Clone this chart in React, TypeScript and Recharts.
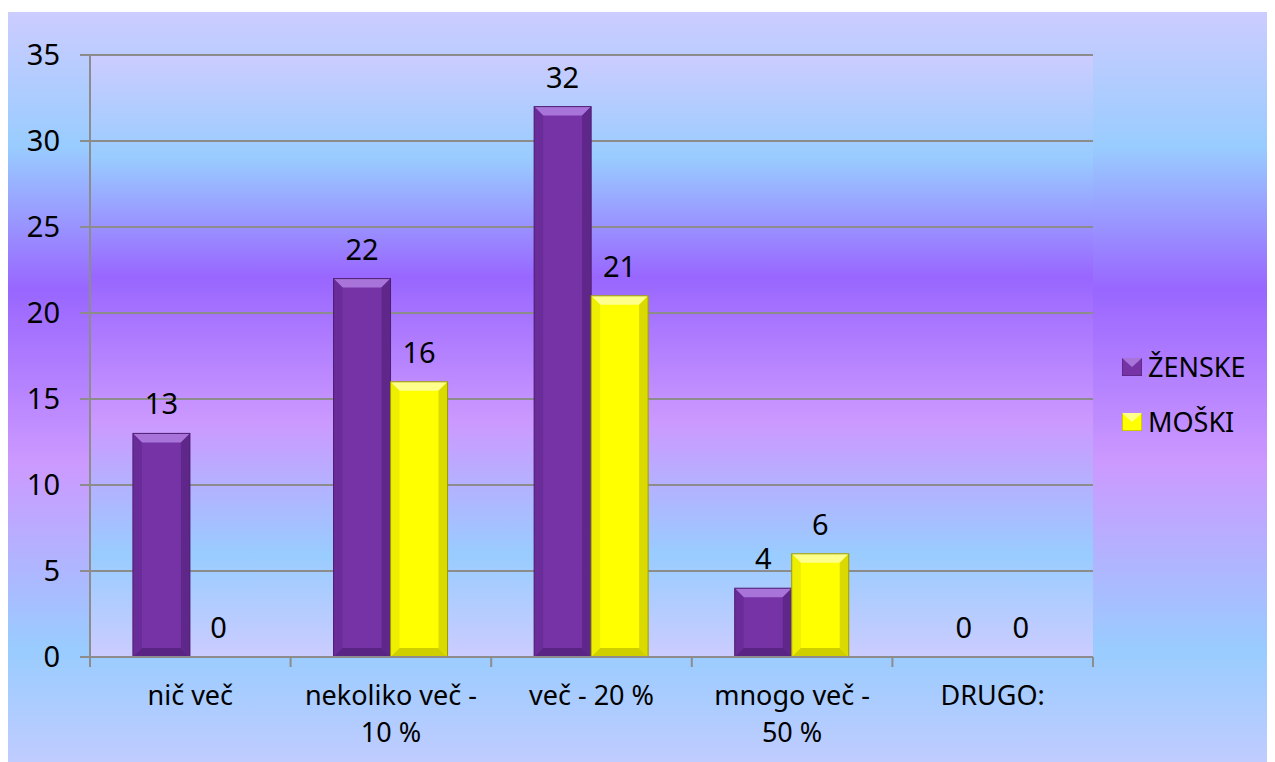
import React from "react";
import { BarChart, Bar, XAxis, YAxis, CartesianGrid, LabelList, Legend } from "recharts";

const categories = ["nič več", "nekoliko več - 10 %", "več - 20 %", "mnogo več - 50 %", "DRUGO:"];
const zenske = [13, 22, 32, 4, 0];
const moski = [0, 16, 21, 6, 0];
const yTicks = [0, 5, 10, 15, 20, 25, 30, 35];
const seriesNames = ["ŽENSKE", "MOŠKI"];

const data = categories.map((c, i) => ({ name: c, zenske: zenske[i], moski: moski[i] }));

const W = 1267;
const H = 750;
const LEGEND_W = 150;
const M = { top: 43, right: 182 - LEGEND_W, bottom: 10, left: 10 };
const YW = 72;
const PLOT_W = W - M.left - M.right - YW - LEGEND_W;
const BW = PLOT_W / categories.length;
const FONT = "'Noto Sans', 'DejaVu Sans', sans-serif";

const PALETTE: Record<string, { base: string; top: string; left: string; right: string; bottom: string; edge: string }> = {
  purple: { base: "#7533A6", top: "#A874DA", left: "#6A2C98", right: "#5F2789", bottom: "#5A2484", edge: "#4E1F73" },
  yellow: { base: "#FFFF00", top: "#FFFF8C", left: "#EEEE00", right: "#DADA00", bottom: "#CFCF00", edge: "#9A9A00" },
};

function BevelBar(props: any) {
  const { x, y, width, height, colorKey } = props;
  if (!height || height <= 0) return null;
  const c = PALETTE[colorKey];
  const b = Math.min(9, height / 2, width / 2);
  const x2 = x + width;
  const y2 = y + height;
  return (
    <g>
      <rect x={x} y={y} width={width} height={height} fill={c.base} />
      <polygon points={`${x},${y} ${x2},${y} ${x2 - b},${y + b} ${x + b},${y + b}`} fill={c.top} />
      <polygon points={`${x},${y} ${x + b},${y + b} ${x + b},${y2 - b} ${x},${y2}`} fill={c.left} />
      <polygon points={`${x2},${y} ${x2 - b},${y + b} ${x2 - b},${y2 - b} ${x2},${y2}`} fill={c.right} />
      <polygon points={`${x},${y2} ${x + b},${y2 - b} ${x2 - b},${y2 - b} ${x2},${y2}`} fill={c.bottom} />
      <rect x={x} y={y} width={width} height={height} fill="none" stroke={c.edge} strokeWidth={1} />
    </g>
  );
}

function splitLabel(s: string): string[] {
  const idx = s.lastIndexOf(" - ");
  if (idx > 0 && s.length > 12) return [s.slice(0, idx) + " -", s.slice(idx + 3)];
  return [s];
}

function CatTick(props: any) {
  const { x, y, payload, index } = props;
  const lines = splitLabel(String(payload.value));
  return (
    <g>
      {index === 0 && <line x1={x - BW / 2} y1={y} x2={x - BW / 2} y2={y + 10} stroke="#8C8C8C" strokeWidth={2} />}
      <line x1={x + BW / 2} y1={y} x2={x + BW / 2} y2={y + 10} stroke="#8C8C8C" strokeWidth={2} />
      <text x={x} y={y + 48} textAnchor="middle" fontSize={27} fill="#000" fontFamily={FONT}>
        {lines.map((l, i) => (
          <tspan key={i} x={x} dy={i === 0 ? 0 : 37}>
            {l}
          </tspan>
        ))}
      </text>
    </g>
  );
}

function LegendContent() {
  const colors = [PALETTE.purple, PALETTE.yellow];
  return (
    <div style={{ fontFamily: FONT }}>
      {seriesNames.map((n, i) => (
        <div key={n} style={{ display: "flex", alignItems: "center", height: 55 }}>
          <svg width={20} height={18} style={{ marginRight: 6 }}>
            <rect x={0} y={0} width={20} height={18} fill={colors[i].base} stroke={colors[i].edge} />
            <polygon points="0,0 20,0 10,9" fill={colors[i].top} />
          </svg>
          <span style={{ fontSize: 27, color: "#000", lineHeight: "30px" }}>{n}</span>
        </div>
      ))}
    </div>
  );
}

export default function App() {
  return (
    <div
      style={{
        width: W,
        height: H,
        marginTop: 4,
        fontFamily: FONT,
        background:
          "linear-gradient(to bottom, #CCCCFF 0%, #99CCFF 18%, #9966FF 37%, #CC99FF 60%, #99CCFF 85%, #C0CCFF 100%)",
      }}
    >
      <BarChart width={W} height={H} data={data} margin={M} barCategoryGap="21.4%" barGap={0}>
        <defs>
          <linearGradient id="plotBg" x1="0" y1="0" x2="0" y2="1">
            <stop offset="0%" stopColor="#CCCCFF" />
            <stop offset="17%" stopColor="#99CCFF" />
            <stop offset="37%" stopColor="#9966FF" />
            <stop offset="61%" stopColor="#CC99FF" />
            <stop offset="83%" stopColor="#99CCFF" />
            <stop offset="100%" stopColor="#CCCCFF" />
          </linearGradient>
        </defs>
        <CartesianGrid vertical={false} stroke="#8C8C8C" strokeWidth={2} fill="url(#plotBg)" fillOpacity={1} />
        <XAxis
          dataKey="name"
          height={95}
          axisLine={{ stroke: "#8C8C8C", strokeWidth: 2 }}
          tickLine={false}
          tickSize={0}
          tickMargin={0}
          interval={0}
          tick={<CatTick />}
        />
        <YAxis
          width={YW}
          domain={[0, 35]}
          ticks={yTicks}
          interval={0}
          axisLine={{ stroke: "#8C8C8C", strokeWidth: 2 }}
          tickLine={{ stroke: "#8C8C8C", strokeWidth: 2 }}
          tickSize={10}
          tickMargin={20}
          tick={{ fontSize: 29, fill: "#000", fontFamily: FONT }}
        />
        <Legend
          layout="vertical"
          align="right"
          verticalAlign="middle"
          content={<LegendContent />}
          wrapperStyle={{ position: "absolute", left: 1114, top: 327, width: LEGEND_W, height: 110 }}
        />
        <Bar dataKey="zenske" name={seriesNames[0]} isAnimationActive={false} shape={<BevelBar colorKey="purple" />}>
          <LabelList dataKey="zenske" position="top" offset={19} fill="#000" fontSize={29} fontFamily={FONT} />
        </Bar>
        <Bar dataKey="moski" name={seriesNames[1]} isAnimationActive={false} shape={<BevelBar colorKey="yellow" />}>
          <LabelList dataKey="moski" position="top" offset={19} fill="#000" fontSize={29} fontFamily={FONT} />
        </Bar>
      </BarChart>
    </div>
  );
}
